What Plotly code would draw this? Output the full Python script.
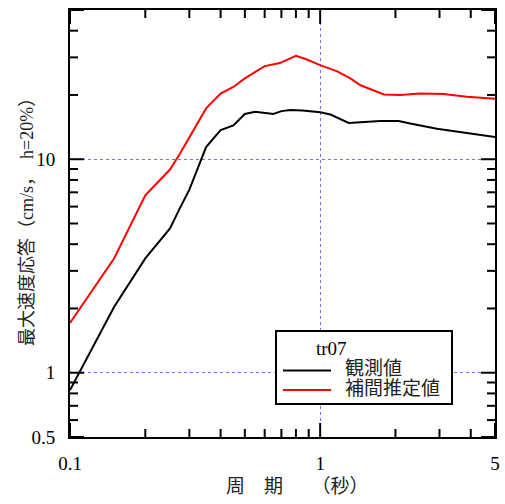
import math
import plotly.graph_objects as go

# Periods (s) and responses (cm/s)
period_obs = [0.1, 0.15, 0.2, 0.251, 0.275, 0.30, 0.35, 0.40, 0.45, 0.50, 0.55, 0.65, 0.70, 0.76, 0.85, 1.0, 1.1, 1.30, 1.74, 2.06, 2.29, 2.93, 5.0]
resp_obs = [0.83, 2.03, 3.43, 4.74, 5.9, 7.2, 11.4, 13.7, 14.4, 16.3, 16.7, 16.3, 16.8, 17.0, 16.9, 16.6, 16.2, 14.8, 15.1, 15.1, 14.7, 13.9, 12.7]

period_est = [0.1, 0.15, 0.2, 0.251, 0.275, 0.35, 0.40, 0.45, 0.50, 0.60, 0.69, 0.73, 0.80, 0.88, 1.0, 1.17, 1.32, 1.45, 1.63, 1.80, 2.09, 2.51, 3.11, 3.86, 5.0]
resp_est = [1.71, 3.43, 6.78, 8.95, 10.6, 17.3, 20.3, 21.8, 23.9, 27.3, 28.2, 29.1, 30.5, 29.4, 27.6, 25.8, 23.9, 22.2, 21.0, 20.1, 20.0, 20.3, 20.2, 19.6, 19.2]

x_ticks = [0.1, 1, 5]
x_ticklabels = ["0.1", "1", "5"]
x_minor = [0.2, 0.3, 0.4, 0.5, 0.6, 0.7, 0.8, 0.9, 2, 3, 4]
y_ticks = [0.5, 1, 10, 50]
y_ticklabels = ["0.5", "1", "10", "50"]
y_minor = [0.6, 0.7, 0.8, 0.9, 2, 3, 4, 5, 6, 7, 8, 9, 20, 30, 40]

legend_title = "tr07"
name_obs = "観測値"
name_est = "補間推定値"
x_title = "周　期　　（秒）"
y_title = "最大速度応答（cm/s，　h=20%）"

FONT = "'Times New Roman', 'Liberation Serif', 'Noto Sans CJK JP', serif"
XR = [math.log10(0.1), math.log10(5)]
YR = [math.log10(0.5), math.log10(50)]

# plot area in pixels
L, R, T, B = 70, 495, 10, 437
W, H = R - L, B - T
MAJ, MIN = 14, 8


def px_x(p):
    return (p - L) / W


def px_y(p):
    return (B - p) / H


fig = go.Figure()
fig.add_trace(go.Scatter(x=period_obs, y=resp_obs, mode="lines", name=name_obs,
                         line=dict(color="black", width=2), showlegend=False))
fig.add_trace(go.Scatter(x=period_est, y=resp_est, mode="lines", name=name_est,
                         line=dict(color="#ff0000", width=2), showlegend=False))

tickfont = dict(family=FONT, size=19, color="black")

fig.update_layout(
    xaxis=dict(type="log", range=XR, tickvals=x_ticks, ticktext=x_ticklabels,
               showline=True, linecolor="black", linewidth=2, mirror=True,
               ticks="", ticklabelstandoff=8,
               showgrid=True, gridcolor="#6f6fff", griddash="dot", gridwidth=1,
               zeroline=False, tickfont=tickfont, automargin=False),
    yaxis=dict(type="log", range=YR, tickvals=y_ticks, ticktext=y_ticklabels,
               showline=True, linecolor="black", linewidth=2, mirror=True,
               ticks="", ticklabelstandoff=9,
               showgrid=True, gridcolor="#6f6fff", griddash="dot", gridwidth=1,
               zeroline=False, tickfont=tickfont, automargin=False),
)

# tick marks (inside, on all four sides), placed through the axes
tick_line = dict(color="black", width=2)
for vals, ln in [(x_ticks, MAJ), (x_minor, MIN)]:
    for v in vals:
        for y0, y1 in [(0, ln / H), (1, 1 - ln / H)]:
            fig.add_shape(type="line", xref="x", yref="y domain", x0=v, x1=v, y0=y0, y1=y1,
                          line=tick_line, layer="above")
for vals, ln in [(y_ticks, MAJ), (y_minor, MIN)]:
    for v in vals:
        for x0, x1 in [(0, ln / W), (1, 1 - ln / W)]:
            fig.add_shape(type="line", xref="x domain", yref="y", x0=x0, x1=x1, y0=v, y1=v,
                          line=tick_line, layer="above")

fig.add_annotation(text=x_title, xref="paper", yref="paper", x=px_x(297), y=px_y(487),
                   xanchor="center", yanchor="middle", showarrow=False,
                   font=dict(family=FONT, size=19, color="#222"))
fig.add_annotation(text=y_title, xref="paper", yref="paper", x=px_x(27), y=px_y(218),
                   xanchor="center", yanchor="middle", showarrow=False, textangle=-90,
                   font=dict(family=FONT, size=18, color="#222"))

# legend box (drawn manually)
fig.add_shape(type="rect", xref="paper", yref="paper",
              x0=px_x(276), x1=px_x(452), y0=px_y(404), y1=px_y(331),
              line=dict(color="black", width=2), fillcolor="white", layer="above")
fig.add_annotation(text=legend_title, xref="paper", yref="paper", x=px_x(314), y=px_y(348),
                   xanchor="left", yanchor="middle", showarrow=False,
                   font=dict(family=FONT, size=19, color="black"))
for name, color, ypx in [(name_obs, "black", 370.5), (name_est, "#ff0000", 390)]:
    fig.add_shape(type="line", xref="paper", yref="paper",
                  x0=px_x(283), x1=px_x(331), y0=px_y(ypx), y1=px_y(ypx),
                  line=dict(color=color, width=2), layer="above")
    fig.add_annotation(text=name, xref="paper", yref="paper", x=px_x(343), y=px_y(ypx - 2),
                       xanchor="left", yanchor="middle", showarrow=False,
                       font=dict(family=FONT, size=19, color="#222"))

fig.update_layout(
    width=505, height=504,
    margin=dict(l=L, r=505 - R, t=T, b=504 - B),
    paper_bgcolor="white", plot_bgcolor="white",
    showlegend=False,
)

fig.write_html("out.html")
